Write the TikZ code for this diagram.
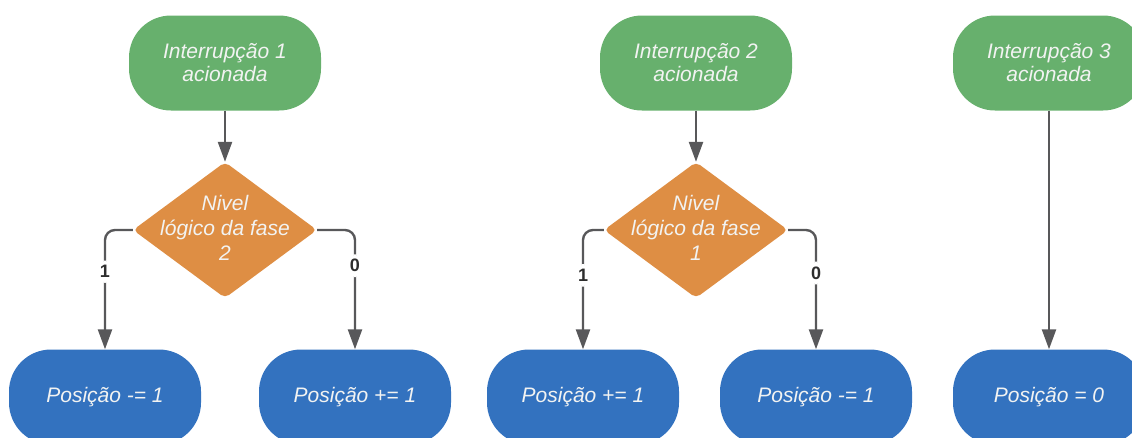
\documentclass[tikz,border=0pt]{standalone}
\usepackage{fontspec}
\setmainfont{Liberation Sans}
\setsansfont{Liberation Sans}
\usetikzlibrary{shapes.geometric,arrows.meta}

\definecolor{startgreen}{RGB}{103,176,109}
\definecolor{decorange}{RGB}{222,142,68}
\definecolor{actblue}{RGB}{51,114,191}
\definecolor{wire}{RGB}{88,88,90}
\definecolor{nodetext}{RGB}{242,243,242}
\definecolor{labeltext}{RGB}{45,45,45}

\begin{document}
\begin{tikzpicture}[x=1pt,y=-1pt,
  terminal/.style={rectangle, rounded corners=42pt, minimum width=192pt,
    minimum height=95pt, inner sep=0pt, text=nodetext, align=center,
    font=\fontsize{21}{23}\selectfont\sffamily\itshape},
  start/.style={terminal, fill=startgreen},
  action/.style={terminal, fill=actblue},
  decision/.style={diamond, fill=decorange, rounded corners=5pt,
    minimum width=184pt, minimum height=136pt, inner sep=0pt, text=nodetext,
    font=\fontsize{21}{25}\selectfont\sffamily\itshape},
  flow/.style={draw=wire, line width=2.4pt,
    -{Triangle[length=20pt,width=14pt]}, rounded corners=10pt},
  branch/.style={font=\fontsize{18}{18}\selectfont\sffamily\bfseries,
    text=labeltext, fill=white, inner xsep=2pt, inner ysep=5pt}
]
\useasboundingbox (0,0) rectangle (1132,437);

% first interrupt: direction read from phase 2
\node[start] (g1) at (225,63) {Interrupção 1\\acionada};
\node[decision] (d1) at (225,230)
  {\makebox[0pt]{\begin{tabular}{@{}c@{}}Nivel\\lógico da fase\\2\end{tabular}}};
\node[action] (b1) at (105,397) {Posição -= 1};
\node[action] (b2) at (355,397) {Posição += 1};

% second interrupt: direction read from phase 1
\node[start] (g2) at (696,63) {Interrupção 2\\acionada};
\node[decision] (d2) at (696,230)
  {\makebox[0pt]{\begin{tabular}{@{}c@{}}Nivel\\lógico da fase\\1\end{tabular}}};
\node[action] (b3) at (583,397) {Posição += 1};
\node[action] (b4) at (816,397) {Posição -= 1};

% third interrupt: reset
\node[start] (g3) at (1049,63) {Interrupção 3\\acionada};
\node[action] (b5) at (1049,397) {Posição = 0};

% connectors
\draw[flow] (g1.south) -- (d1.north);
\draw[flow] (d1.west) -| node[branch, pos=0.675] {1} (b1.north);
\draw[flow] (d1.east) -| node[branch, pos=0.65] {0} (b2.north);

\draw[flow] (g2.south) -- (d2.north);
\draw[flow] (d2.west) -| node[branch, pos=0.69] {1} (b3.north);
\draw[flow] (d2.east) -| node[branch, pos=0.68] {0} (b4.north);

\draw[flow] (g3.south) -- (b5.north);
\end{tikzpicture}
\end{document}
